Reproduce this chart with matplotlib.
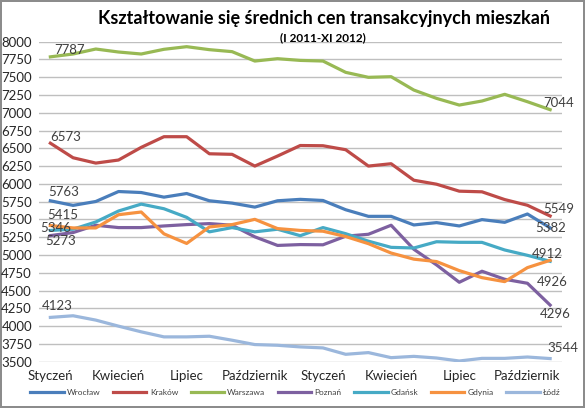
import matplotlib
matplotlib.use("Agg")
import matplotlib.pyplot as plt

plt.rcParams['font.family'] = ['Lato', 'DejaVu Sans']

# miesiące I 2011 - XI 2012
months = ['Styczeń', 'Luty', 'Marzec', 'Kwiecień', 'Maj', 'Czerwiec', 'Lipiec',
          'Sierpień', 'Wrzesień', 'Październik', 'Listopad', 'Grudzień',
          'Styczeń', 'Luty', 'Marzec', 'Kwiecień', 'Maj', 'Czerwiec', 'Lipiec',
          'Sierpień', 'Wrzesień', 'Październik', 'Listopad']

wroclaw = [5763, 5698, 5753, 5893, 5879, 5814, 5865, 5763, 5730, 5674, 5763, 5783,
           5767, 5637, 5544, 5544, 5423, 5456, 5409, 5498, 5460, 5577, 5382]
krakow = [6573, 6368, 6293, 6336, 6514, 6664, 6664, 6424, 6416, 6251, 6392, 6540,
          6537, 6481, 6251, 6284, 6052, 5996, 5898, 5889, 5780, 5700, 5549]
warszawa = [7787, 7827, 7897, 7855, 7827, 7893, 7930, 7888, 7860, 7728, 7761, 7737,
            7728, 7569, 7499, 7508, 7320, 7203, 7109, 7166, 7260, 7156, 7044]
poznan = [5273, 5316, 5419, 5386, 5386, 5409, 5428, 5442, 5419, 5256, 5135, 5147,
          5144, 5265, 5292, 5419, 5081, 4861, 4617, 4772, 4659, 4603, 4296]
gdansk = [5346, 5363, 5465, 5619, 5716, 5651, 5530, 5326, 5386, 5326, 5363, 5272,
          5386, 5300, 5195, 5108, 5099, 5187, 5179, 5178, 5071, 4996, 4912]
gdynia = [5415, 5381, 5381, 5567, 5605, 5298, 5163, 5395, 5428, 5502, 5372, 5346,
          5335, 5260, 5160, 5028, 4942, 4908, 4781, 4682, 4626, 4823, 4926]
lodz = [4123, 4146, 4085, 4000, 3920, 3849, 3849, 3858, 3802, 3741, 3731, 3708,
        3694, 3604, 3628, 3557, 3575, 3552, 3510, 3547, 3547, 3566, 3544]

series = [('Wrocław', wroclaw, '#4A7EBB'),
          ('Kraków', krakow, '#BE4B48'),
          ('Warszawa', warszawa, '#98B954'),
          ('Poznań', poznan, '#7D60A0'),
          ('Gdańsk', gdansk, '#46AAC5'),
          ('Gdynia', gdynia, '#F69240'),
          ('Łódź', lodz, '#9BB7DC')]

fig = plt.figure(figsize=(5.85, 4.08), dpi=100)
fig.patch.set_edgecolor('#8C8C8C')
fig.patch.set_linewidth(1.5)
ax = fig.add_axes([39 / 585, 46.3 / 408, 522.5 / 585, 320 / 408])

x = list(range(len(months)))
for name, vals, col in series:
    ax.plot(x, vals, color=col, lw=2.3, label=name, solid_joinstyle='round')

ax.set_xlim(-0.5, len(months) - 0.5)
ax.set_ylim(3500, 8000)
ax.set_yticks(range(3500, 8001, 250))
ax.set_xticks(x[::3])
ax.set_xticklabels(months[::3])
ax.grid(axis='y', color='#BFBFBF', lw=1)
ax.set_axisbelow(True)
for s in ax.spines.values():
    s.set_visible(False)
ax.tick_params(length=0, labelsize=9.5, colors='#262626')
ax.tick_params(axis='y', pad=5)
ax.tick_params(axis='x', pad=6)

# etykiety wartości pierwszego i ostatniego punktu (przesunięcia w pikselach)
labels = [(warszawa, 0, 4, 7), (krakow, 0, 0, 6), (wroclaw, 0, -2, 9),
          (gdynia, 0, -3, 11), (gdansk, 0, -10, 2), (poznan, 0, -5, -5),
          (lodz, 0, -9, 11),
          (warszawa, -1, -7, 7), (krakow, -1, -7, 7), (wroclaw, -1, -15, 0),
          (gdansk, -1, -18, 7), (gdynia, -1, -13, -22), (poznan, -1, -10, -9),
          (lodz, -1, -3, 11)]
for vals, i, dx, dy in labels:
    ax.annotate(str(vals[i]), (x[i], vals[i]), xytext=(dx, dy),
                textcoords='offset pixels', ha='left', va='center',
                fontsize=9.5, color='#404040')

fig.text(0.553, 0.955, 'Kształtowanie się średnich cen transakcyjnych mieszkań',
         ha='center', va='center', fontsize=13, fontweight='bold')
fig.text(0.552, 0.907, '(I 2011-XI 2012)', ha='center', va='center',
         fontsize=8.5, fontweight='bold')

fig.legend(loc='center', bbox_to_anchor=(0.505, 0.039), ncol=7, frameon=False,
           fontsize=6, handlelength=4, handletextpad=0.4, columnspacing=1.5,
           labelcolor='#404040')

fig.savefig('out.png', dpi=100)
